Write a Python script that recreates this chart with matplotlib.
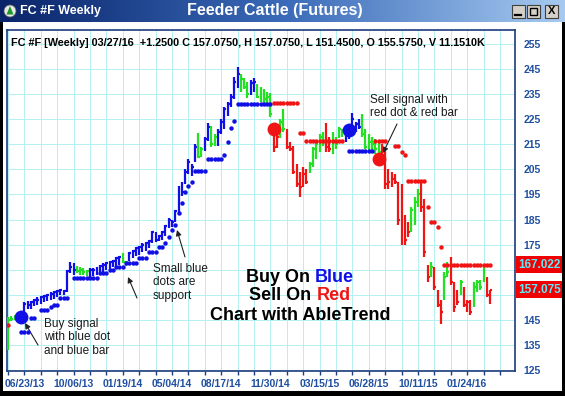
import numpy as np
import matplotlib
matplotlib.use('Agg')
import matplotlib.pyplot as plt
from matplotlib.patches import Rectangle, Ellipse, Polygon
from matplotlib.colors import LinearSegmentedColormap

plt.rcParams['font.family'] = ['Liberation Sans', 'DejaVu Sans']

W, H = 565, 396

# weekly bars FC #F, 05/19/13 .. 03/27/16
highs = [146, 146.5, 146.8, 146.5, 147.5, 152, 152.5, 152.5, 153.5, 154,
         154.5, 155, 155.5, 156, 156.5, 157, 157.5, 157, 165, 168,
         167.5, 166.5, 166, 165.5, 165, 165.5, 165.5, 166, 167, 167.5,
         168, 168.5, 169, 170, 170.5, 171.7, 168.5, 172, 173, 174,
         174.5, 175.5, 176, 177, 180.5, 180, 179, 180.5, 183, 185.5,
         185, 189, 198.5, 200, 205, 209, 207, 215, 219.5, 214,
         218, 223.5, 222.5, 219, 221, 225, 230, 232, 235, 242,
         246, 243, 241.5, 240, 240.5, 241.5, 239, 238, 237, 236,
         235.5, 223, 220, 225, 229, 221, 216, 214.5, 207, 204,
         206, 205, 208, 214, 216, 219, 220, 223.5, 218, 220,
         218, 222, 221, 221, 222, 227.5, 224, 225, 227, 221,
         219, 218, 217, 216, 215, 213, 205, 204, 203, 200,
         199, 187, 184, 190, 194, 197, 200.5, 193, 167, 168,
         166, 157, 153, 164, 168, 170, 160, 157, 161, 158,
         153, 153, 160, 161, 161, 167, 162, 157.075]
lows = [133, 144.5, 144.8, 144.5, 144, 147.5, 149.5, 149.5, 150.5, 151,
        151.5, 152, 152.5, 153, 153.5, 154, 155, 155, 156, 163.5,
        163, 163.5, 163, 163, 162.5, 162, 162.5, 163, 163.5, 164,
        165, 165, 166, 166.5, 167, 167.5, 166.5, 168.5, 169.5, 170.5,
        171, 172, 172.5, 173.5, 175.5, 176, 176.5, 177, 178.5, 181.5,
        182, 184, 187, 194.5, 199, 203, 202.5, 208, 209.5, 210,
        212.5, 216.5, 214, 214.5, 214.5, 219, 221, 226.5, 230, 233,
        237.5, 236, 237, 233.5, 234.5, 236, 233.5, 232, 231.5, 231.5,
        226, 212, 213.5, 217.5, 220, 213, 212.5, 203, 198, 194,
        198, 199, 203.5, 206, 209, 212, 214.5, 212, 212, 211,
        213, 217.5, 218, 216, 217, 220, 220, 221, 218, 213,
        212, 212.5, 211, 211.5, 209, 197, 197, 198, 199, 183,
        175, 175, 178, 180, 183, 190, 188, 170, 160, 162,
        157, 150, 143.5, 153, 162, 159, 148, 151, 155, 150,
        148, 147, 150, 156, 157, 160, 154, 151.45]
closes = [145, 145.5, 146, 145.5, 147, 151.5, 151, 152, 153, 153,
          154, 154.5, 155, 155.5, 156, 156.5, 157, 156.5, 164.5, 166,
          165, 164.5, 165, 164, 164.5, 165, 165, 165.5, 166.5, 167,
          167.5, 168, 168.5, 169.5, 170, 168, 168, 171.5, 172.5, 173.5,
          174, 175, 175.5, 176.5, 180, 177, 178.5, 180, 182.5, 185,
          184, 188.5, 198, 196, 204, 208, 206, 214, 210, 213,
          217, 222, 215, 218, 220, 224, 229, 231, 234, 240,
          243, 241, 238, 235, 239.5, 240, 234, 236, 233, 234,
          227, 214, 218, 224, 221, 214, 213, 204, 199, 198,
          203, 200, 207, 213, 215, 218, 216, 214, 213, 216,
          215, 221, 220, 220.5, 221.5, 225, 223, 222, 219, 214,
          216, 215, 213, 212, 210, 199, 200, 201, 200, 185,
          178, 177, 180, 189, 192, 195, 190, 172, 162, 166,
          158, 151, 148, 162, 164, 160, 150, 152, 160, 151,
          152, 148, 158, 160, 158, 161, 155, 157.075]
# B = blue (up), G = green (neutral), R = red (down)
trend = ("GGGG" + "BBBBBBBBBBBBBBBBB" + "GGGG" + "BBBBBBBBBB" + "GG"
         + "BBBBBBBBBBBBBBBBBBBBB" + "GG" + "BB" + "GG" + "BBBBBBB" + "GGG"
         + "BB" + "GGGGG" + "RR" + "GG" + "RRRRRRR" + "GGGGG" + "RR" + "GGGG"
         + "BBBBB" + "GGGGGG" + "RRRRRRRRR" + "GGG" + "RRR" + "G" + "RRR"
         + "GG" + "RRR" + "G" + "RRR" + "GGGG" + "RR")

support_idx = [4, 5, 6, 7, 8, 10, 11, 12, 13, 14, 15, 16, 17, 18,
               20, 21, 22, 23, 24, 25, 26, 27, 28, 29, 30, 31, 32, 33, 34, 35,
               36, 37, 38, 39, 40, 41, 42, 43, 44, 45, 46, 47, 48, 49,
               50, 51, 52, 53, 54, 55, 56, 57, 58, 59, 60, 61, 62, 63, 64, 65,
               66, 67, 68, 69, 70, 71, 72, 73, 74, 75, 76, 77, 78, 79, 80,
               104, 105, 106, 107, 108, 109, 110, 111]
support_val = [140, 140, 140, 145.8, 145.8, 149, 149, 149, 150, 151, 151, 153.7, 153.7, 153.7,
               161.7, 161.7, 161.7, 161.7, 161.7, 161.7, 161.7, 161.7, 163.5, 163.5, 163.5,
               165, 165, 166, 166, 166,
               167.7, 167.7, 167.7, 167.7, 169.7, 169.7, 169.7, 172, 172, 172, 174, 174, 175.6, 178,
               180.8, 182.8, 187.6, 191.5, 196, 198.4, 200, 204.4, 204.4, 204.4, 204.4,
               209, 209, 209, 209, 209,
               210.7, 216, 221.5, 224.5, 231, 231, 231, 231, 231, 231, 231, 231, 231, 231, 231,
               212.3, 212.3, 212.3, 212.3, 212.3, 212.3, 212.3, 212.3]

resist_idx = [0, 81, 82, 83, 84, 85, 86, 87, 88, 89, 90,
              91, 92, 93, 94, 95, 96, 97, 98, 99, 100, 101, 102,
              112, 113, 114, 115, 118, 119, 120, 121,
              122, 123, 124, 125, 126, 127, 128, 129, 130, 131, 132,
              133, 134, 135, 136, 137, 138, 139, 140, 141, 142, 143, 144, 145, 146, 147]
resist_val = [143, 231.4, 231.4, 231.4, 231.4, 231.4, 231.4, 231.4, 231.4, 219.5, 219.5,
              216.3, 216.3, 216.3, 216.3, 216.3, 216.3, 216.3, 216.3, 216.3, 216.3, 216.3, 216.3,
              216.3, 216.3, 216.3, 216.3, 214.5, 214.5, 212, 210.7,
              200.4, 200.4, 200.4, 200.4, 200.4, 200.4, 190, 184, 184, 182, 174,
              167.0, 167.0, 167.0, 167.0, 167.0, 167.0, 167.0, 167.0, 167.0, 167.0,
              167.0, 167.0, 167.0, 167.0, 167.0]

signal_idx = [4, 81, 104, 113]
signal_val = [146.0, 221.0, 220.7, 209.3]
signal_kind = ['B', 'R', 'B', 'R']

date_labels = ['06/23/13', '10/06/13', '01/19/14', '05/04/14', '08/17/14',
               '11/30/14', '03/15/15', '06/28/15', '10/11/15', '01/24/16']
price_ticks = [125, 135, 145, 155, 165, 175, 185, 195, 205, 215, 225, 235, 245, 255]
resist_now = 167.022
last_close = 157.075

colors = {'B': '#1010e6', 'G': '#22e022', 'R': '#f01414'}
navy = '#1c3c7c'
lblue = '#1f4f9f'

fig = plt.figure(figsize=(W / 100, H / 100), dpi=100)
fig.patch.set_facecolor('white')


def fx(x):
    return x / W


def fy(y):
    return 1 - y / H


# title bar
tb = fig.add_axes([0, fy(22), 1, 22 / H])
cm = LinearSegmentedColormap.from_list('tb', ['#0a246a', '#3a6ab8', '#a6caf0'])
tb.imshow(np.linspace(0, 1, 256)[None, :], cmap=cm, aspect='auto', extent=[0, 1, 0, 1])
tb.axis('off')
fig.patches.append(Ellipse((fx(10), fy(11)), 12 / W, 12 / H, transform=fig.transFigure,
                           fc='#e8e8e8', ec='#606060', lw=0.5, zorder=5))
fig.patches.append(Polygon([(fx(10), fy(6)), (fx(6.5), fy(14.5)), (fx(13.5), fy(14.5))],
                           closed=True, transform=fig.transFigure, fc='#1a9a2a', ec='none', zorder=6))
fig.text(fx(20), fy(11), 'FC #F Weekly', color='white', weight='bold', size=9, va='center')
fig.text(fx(275), fy(10), 'Feeder Cattle (Futures)', color='white', weight='bold',
         size=11.5, va='center', ha='center')
for bx in [512, 527, 545]:
    fig.patches.append(Rectangle((fx(bx), fy(18)), 13 / W, 13 / H, transform=fig.transFigure,
                                 fc='#d4d0c8', ec='#404040', lw=0.8, zorder=5))
fig.lines.append(plt.Line2D([fx(515), fx(521)], [fy(15), fy(15)], transform=fig.transFigure,
                            color='black', lw=1.6, zorder=6))
fig.patches.append(Rectangle((fx(530), fy(15)), 7 / W, 7 / H, transform=fig.transFigure,
                             fc='none', ec='black', lw=1.0, zorder=6))
fig.text(fx(551.5), fy(11.5), 'X', weight='bold', size=8, ha='center', va='center', zorder=6)

# window border
for (x0, y0, w, h) in [(0, 22, 3, 374), (562, 22, 3, 374), (0, 391, 565, 5)]:
    fig.patches.append(Rectangle((fx(x0), fy(y0 + h)), w / W, h / H, transform=fig.transFigure,
                                 fc='black', ec='none', zorder=10))

# chart
ax = fig.add_axes([fx(7), fy(371), 508 / W, 341 / H])
ax.set_xlim(-0.3, 154.6)
ax.set_ylim(124.6, 260.6)

x = np.arange(len(highs))
hi = np.array(highs)
lo = np.array(lows)
cl = np.array(closes)
kinds = np.array(list(trend))
for k in 'BGR':
    m = kinds == k
    ax.vlines(x[m], lo[m], hi[m], color=colors[k], lw=1.6, zorder=3)
    ax.hlines(cl[m], x[m], x[m] + 0.6, color=colors[k], lw=1.6, zorder=3)

ax.plot(support_idx, support_val, 'o', color=colors['B'], ms=3.2, mew=0, zorder=4)
ax.plot(resist_idx, resist_val, 'o', color=colors['R'], ms=3.2, mew=0, zorder=4)
for i, v, k in zip(signal_idx, signal_val, signal_kind):
    ax.plot(i, v, 'o', color=colors[k], ms=10, mew=0, zorder=5)

ax.grid(True, color='#b4f0f0', lw=0.7)
ax.set_axisbelow(True)
for s in ax.spines.values():
    s.set_color(navy)
    s.set_linewidth(1.2)

# 165 and 155 sit under the red price boxes, so they carry no label
ax.yaxis.tick_right()
ax.set_yticks(price_ticks)
ax.set_yticklabels(['' if p in (155, 165) else str(p) for p in price_ticks])
ax.tick_params(axis='y', length=0, pad=6, labelsize=7.5, labelcolor=lblue)
ax.set_xticks(np.arange(0, 155, 5))
xl = [''] * len(ax.get_xticks())
for n, lab in enumerate(date_labels):
    xl[1 + 3 * n] = lab
ax.set_xticklabels(xl)
ax.tick_params(axis='x', length=3, width=1, color=navy, pad=3, labelsize=7.5, labelcolor=lblue)
for t in ax.get_xticklabels() + ax.get_yticklabels():
    t.set_fontweight('bold')

for val in [resist_now, last_close]:
    ax.text(1.0 + 3.5 / 508, val, f'{val:.3f}', transform=ax.get_yaxis_transform(),
            ha='left', va='center', color='#5ee8f8', weight='bold', size=8.5, clip_on=False,
            bbox=dict(boxstyle='square,pad=0.22', fc='#f00000', ec='none'), zorder=6)

fig.text(fx(11), fy(43), 'FC #F [Weekly] 03/27/16  +1.2500 C 157.0750, H 157.0750, '
         'L 151.4500, O 155.5750, V 11.1510K', weight='bold', size=7.8, va='center')

# annotations (figure pixel coordinates)
ann = dict(size=8.5, color='#1a1a1a', va='top', ha='left', linespacing=1.15)
fig.text(fx(44), fy(318), 'Buy signal\nwith blue dot\nand blue bar', **ann)
fig.text(fx(153), fy(263), 'Small blue\ndots are\nsupport', **ann)
fig.text(fx(370), fy(94), 'Sell signal with\nred dot & red bar', **ann)
arr = dict(arrowstyle='-|>', color='#222222', lw=0.8, mutation_scale=8, shrinkA=0, shrinkB=0)
for tail, head in [((38, 345), (25, 323)), ((137, 298), (128, 277)),
                   ((185, 257), (177, 230)), ((397, 124), (383, 153))]:
    ax.annotate('', xy=(head[0], H - head[1]), xytext=(tail[0], H - tail[1]),
                xycoords='figure pixels', textcoords='figure pixels', arrowprops=arr)

r = fig.canvas.get_renderer()
big = dict(size=13, weight='bold', va='center')
for yv, first, second, c2 in [(277, 'Buy On', 'Blue', colors['B']),
                              (296, 'Sell On', 'Red', colors['R'])]:
    whole = fig.text(0, 0, first + ' ' + second, **big)
    wt = whole.get_window_extent(r).width
    whole.remove()
    fig.text(fx(300 - wt / 2), fy(yv), first, ha='left', color='black', **big)
    fig.text(fx(300 + wt / 2), fy(yv), second, ha='right', color=c2, **big)
fig.text(fx(300), fy(315), 'Chart with AbleTrend', ha='center', color='black', **big)

fig.savefig('out.png', dpi=100)
